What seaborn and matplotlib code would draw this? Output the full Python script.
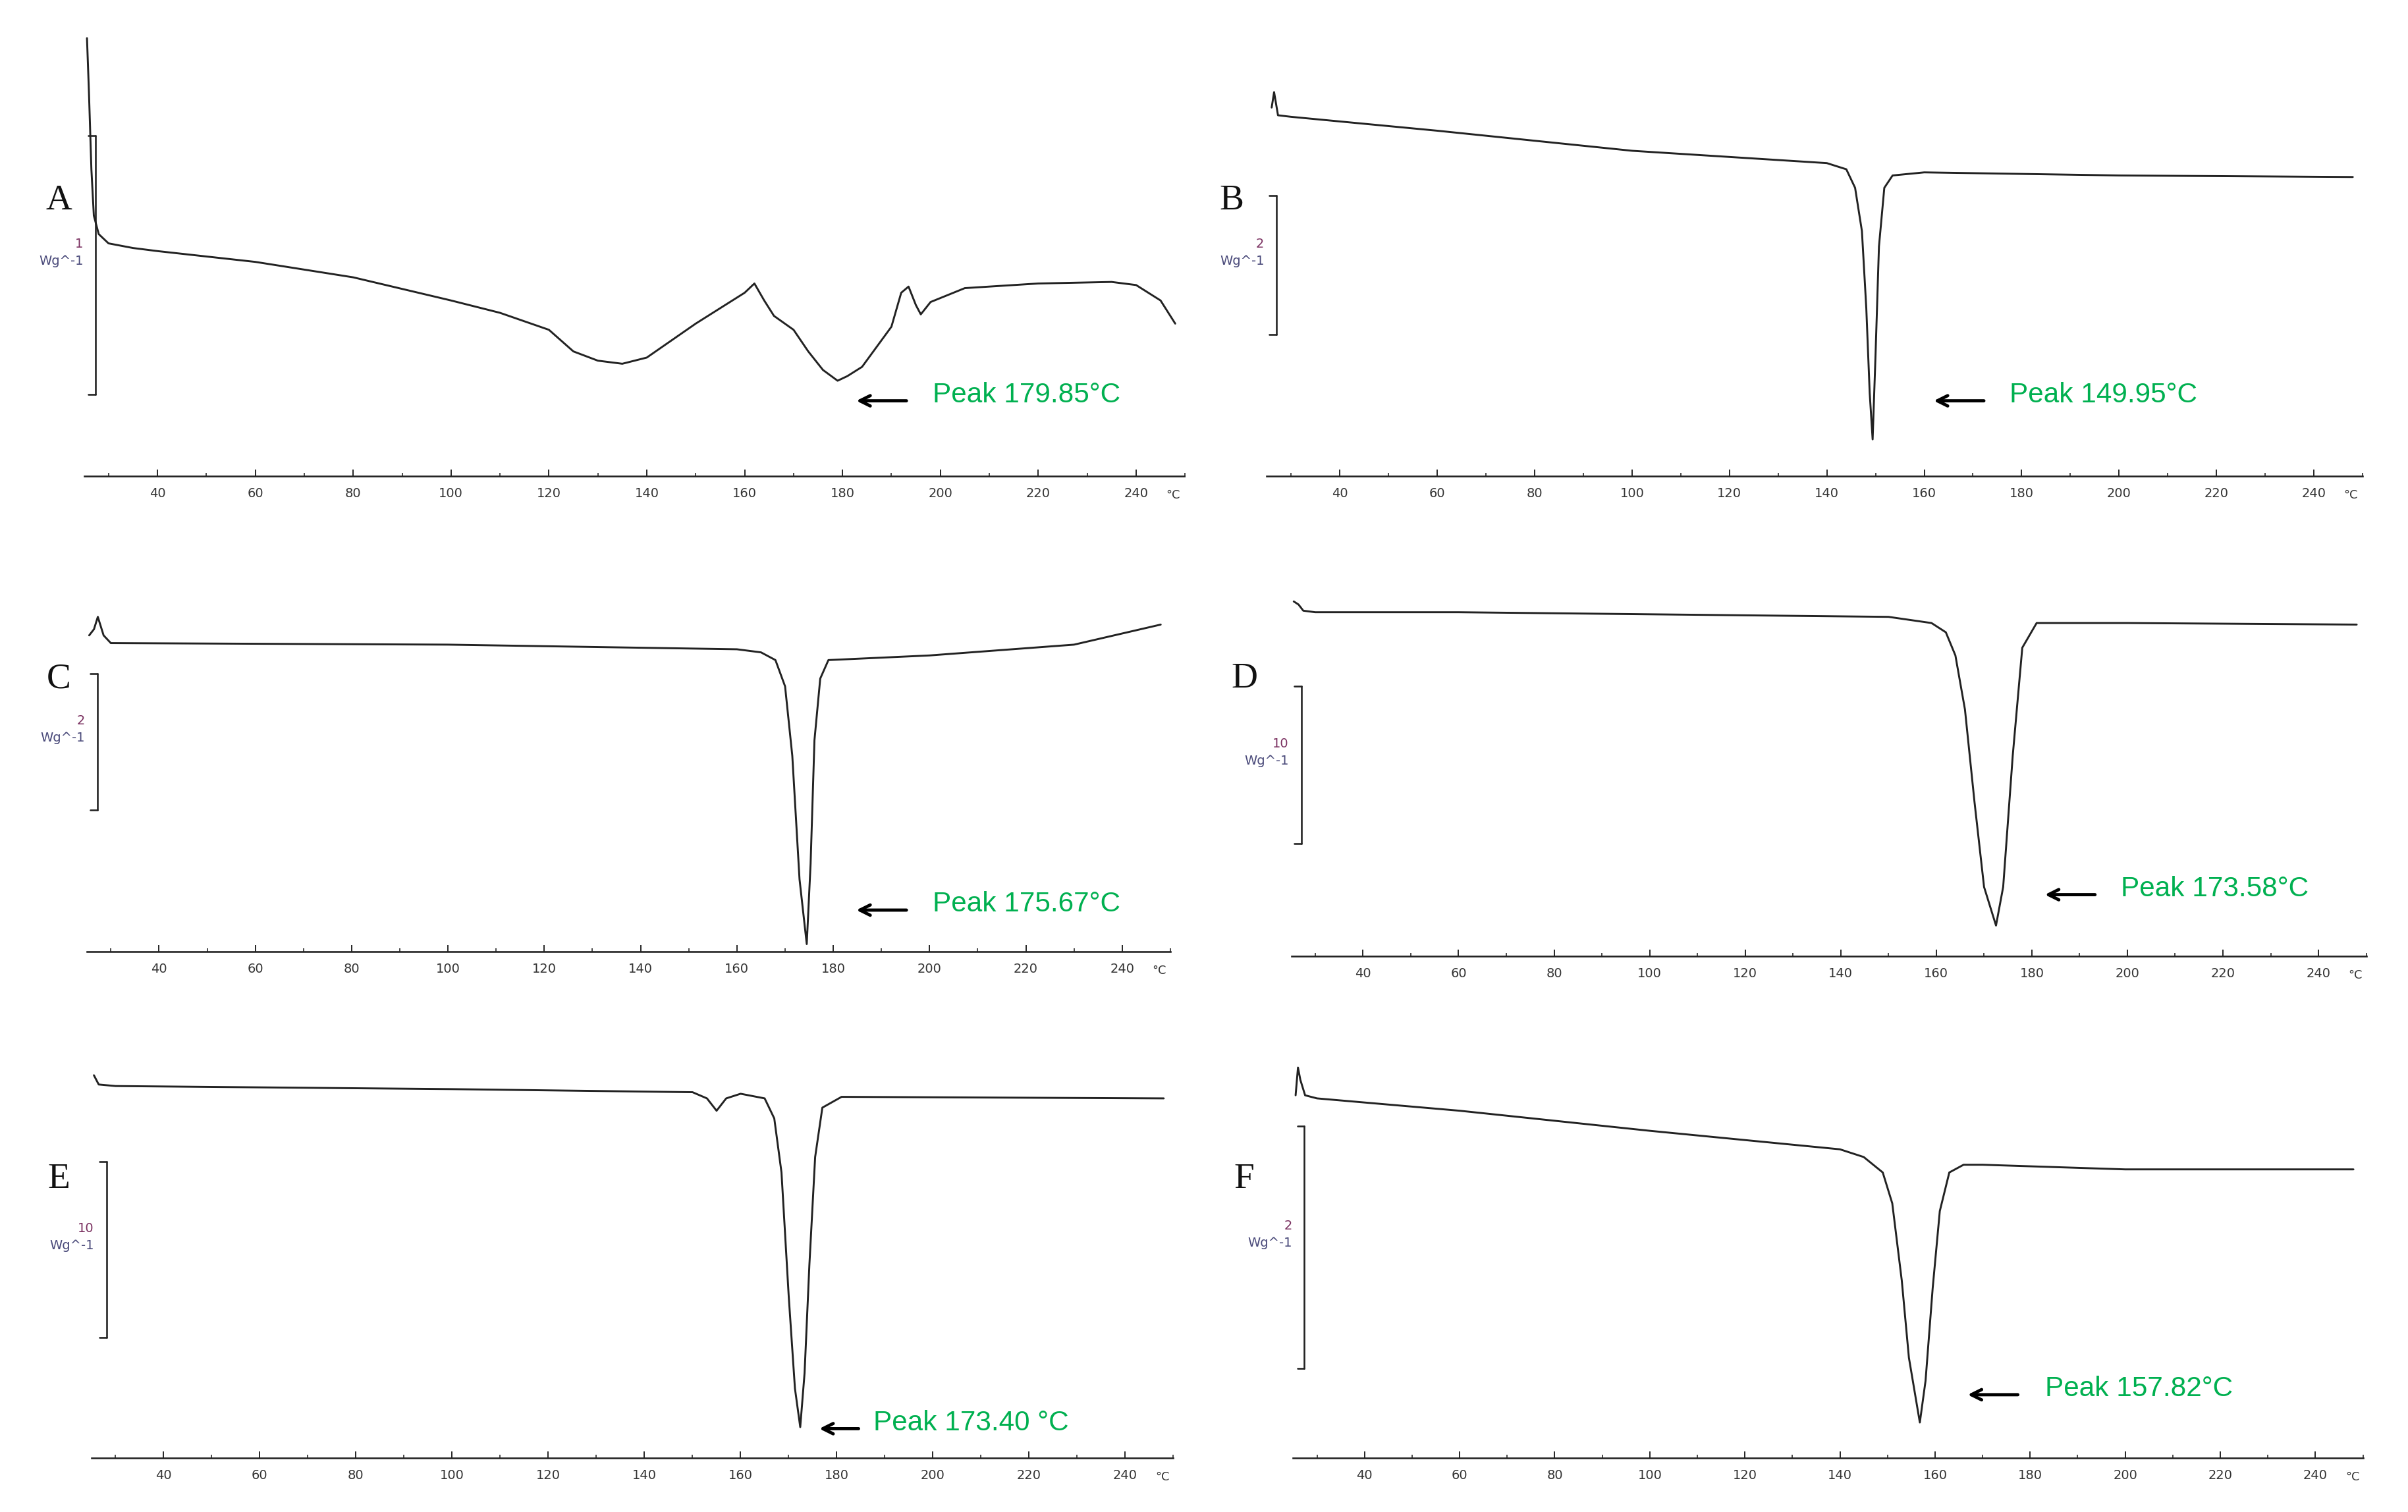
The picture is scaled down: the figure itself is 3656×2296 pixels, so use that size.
import numpy as np
import pandas as pd
import matplotlib
matplotlib.use("Agg")
import matplotlib.pyplot as plt
import seaborn as sns

sns.set_theme(style="white")
plt.rcParams['font.family'] = ['DejaVu Sans']

# -----------------------------
# DSC curves (temperature in °C, heat flow in picture units, down = endo)
# -----------------------------
temp_a = [25.6, 26.0, 26.5, 27.0, 28, 30, 35, 40, 60, 80, 100, 110, 120, 125, 130, 135, 140, 150, 160, 162,
          164, 166, 170, 173, 176, 179.0, 181, 184, 187, 190, 192, 193.5, 195, 196, 198, 205, 220, 235, 240, 245, 248]
flow_a = [25, 60, 110, 140, 152, 158, 161, 163, 170, 180, 195, 203, 214, 228, 234, 236, 232, 210, 190, 184,
          195, 205, 214, 228, 240, 247, 244, 238, 225, 212, 190, 186, 198, 204, 196, 187, 184, 183, 185, 195, 210]

temp_b = [26.0, 26.5, 27.3, 30, 60, 100, 140, 144, 145.8, 147.2, 148.1, 148.8, 149.4, 150.0, 150.7, 151.8, 153.5, 160, 200, 248]
flow_b = [70, 60, 75, 76, 85, 98, 106, 110, 122, 150, 200, 255, 285, 230, 160, 122, 114, 112, 114, 115]

temp_c = [25.5, 26.5, 27.3, 28.5, 30, 100, 160, 165, 168, 170, 171.5, 173, 174.5, 175.3, 176.1, 177.3, 179, 200, 230, 248]
flow_c = [412, 408, 400, 412, 417, 418, 421, 423, 428, 445, 490, 570, 612, 560, 480, 440, 428, 425, 418, 405]

temp_d = [25.5, 26.5, 27.5, 30, 60, 150, 159, 162, 164, 166, 168, 170, 172.5, 174, 176, 178, 181, 200, 248]
flow_d = [390, 392, 396, 397, 397, 400, 404, 410, 425, 460, 520, 575, 600, 575, 490, 420, 404, 404, 405]

temp_e = [25.5, 26.5, 30, 100, 150, 153, 155, 157, 160, 165, 167, 168.5, 170, 171.3, 172.4, 173.3, 174.3, 175.5, 177, 181, 248]
flow_e = [697, 703, 704, 706, 708, 712, 720, 712, 709, 712, 725, 760, 840, 900, 925, 890, 820, 750, 718, 711, 712]

temp_f = [25.5, 26.0, 26.5, 27.5, 30, 60, 100, 140, 145, 149, 151, 153, 154.5, 156.8, 158, 159.5, 161, 163, 166, 170, 200, 248]
flow_f = [710, 692, 700, 710, 712, 720, 733, 745, 750, 760, 780, 830, 880, 922, 895, 835, 785, 760, 755, 755, 758, 758]

labels = ["A", "B", "C", "D", "E", "F"]
peak_texts = ["Peak 179.85°C", "Peak 149.95°C", "Peak 175.67°C", "Peak 173.58°C", "Peak 173.40 °C", "Peak 157.82°C"]
scale_values = ["1", "2", "2", "10", "10", "2"]
tick_values = list(range(40, 241, 20))

curves = [(temp_a, flow_a), (temp_b, flow_b), (temp_c, flow_c),
          (temp_d, flow_d), (temp_e, flow_e), (temp_f, flow_f)]

# layout in reference pixels (1560 x 980 grid)
W, H = 1560.0, 980.0
panels = [
    dict(p40=102, p240=736, top=0, bot=340, axy=309, lab=(38, 130), bar=(62, 88, 256), peak=(604, 256), arr=(590, 552)),
    dict(p40=868, p240=1499, top=0, bot=340, axy=309, lab=(798, 130), bar=(827, 127, 217), peak=(1302, 256), arr=(1288, 1250)),
    dict(p40=103, p240=727, top=340, bot=650, axy=617, lab=(38, 440), bar=(63, 437, 525), peak=(604, 586), arr=(590, 552)),
    dict(p40=883, p240=1502, top=340, bot=650, axy=620, lab=(806, 440), bar=(843, 445, 547), peak=(1374, 576), arr=(1360, 1322)),
    dict(p40=106, p240=729, top=650, bot=980, axy=945, lab=(38, 764), bar=(69, 753, 867), peak=(566, 922), arr=(559, 528)),
    dict(p40=884, p240=1500, top=650, bot=980, axy=945, lab=(806, 764), bar=(845, 730, 887), peak=(1325, 900), arr=(1310, 1272)),
]

fig = plt.figure(figsize=(15.6, 9.8), dpi=234.36)
green = "#00b050"

for i, p in enumerate(panels):
    left_px = p["p40"] - 90 if i % 2 == 0 else p["p40"] - 100
    left_px = max(left_px, 0)
    right_px = min(p["p240"] + 50, W) if i % 2 == 0 else min(p["p240"] + 55, W)
    k = (p["p240"] - p["p40"]) / 200.0
    to_t = lambda px: 40 + (px - p["p40"]) / k
    ax = fig.add_axes([left_px / W, 1 - p["bot"] / H, (right_px - left_px) / W, (p["bot"] - p["top"]) / H])
    ax.set_xlim(to_t(left_px), to_t(right_px))
    ax.set_ylim(p["bot"], p["top"])

    t, f = curves[i]
    df = pd.DataFrame({"T": t, "flow": f})
    sns.lineplot(data=df, x="T", y="flow", ax=ax, color="#222222", linewidth=0.9, sort=False)

    # x axis line with ticks
    for s in ["top", "right", "left"]:
        ax.spines[s].set_visible(False)
    ax.spines["bottom"].set_position(("data", p["axy"]))
    ax.spines["bottom"].set_bounds(25, 250)
    ax.spines["bottom"].set_linewidth(0.8)
    ax.spines["bottom"].set_color("#222222")
    ax.set_xticks(tick_values)
    ax.set_xticks(list(range(30, 251, 20)), minor=True)
    ax.tick_params(axis="x", which="major", direction="in", length=3, width=0.6, labelsize=6,
                   labelcolor="#333333", pad=5, bottom=True)
    ax.tick_params(axis="x", which="minor", direction="in", length=1.5, width=0.5, bottom=True)
    ax.set_yticks([])
    ax.set_xlabel("")
    ax.set_ylabel("")
    ax.text(to_t(p["p240"] + 24), p["axy"] + 12, "°C", fontsize=5.5, color="#333333", ha="center", va="center")

    # scale bar
    bx, b0, b1 = p["bar"]
    tb = to_t(bx)
    ax.plot([tb, tb], [b0, b1], color="#222222", lw=0.8)
    ax.plot([tb - 1.5, tb], [b0, b0], color="#222222", lw=0.8)
    ax.plot([tb - 1.5, tb], [b1, b1], color="#222222", lw=0.8)
    mid = (b0 + b1) / 2
    ax.text(to_t(bx - 8), mid - 14, scale_values[i], fontsize=6, color="#7a3060", ha="right", va="center")
    ax.text(to_t(bx - 8), mid - 3, "Wg^-1", fontsize=6, color="#4a4a7a", ha="right", va="center")

    # panel letter
    lx, ly = p["lab"]
    ax.text(to_t(lx), ly, labels[i], fontsize=17, family="Liberation Serif", ha="center", va="center", color="#111111")

    # peak annotation
    a0, a1 = p["arr"]
    ax.annotate("", xy=(to_t(a1), p["peak"][1] + 4), xytext=(to_t(a0), p["peak"][1] + 4),
                arrowprops=dict(arrowstyle="->", color="black", lw=1.5, mutation_scale=12))
    ax.text(to_t(p["peak"][0]), p["peak"][1], peak_texts[i], fontsize=13, family="Liberation Sans",
            color=green, ha="left", va="center")

fig.savefig("out.png", dpi=234.36)
